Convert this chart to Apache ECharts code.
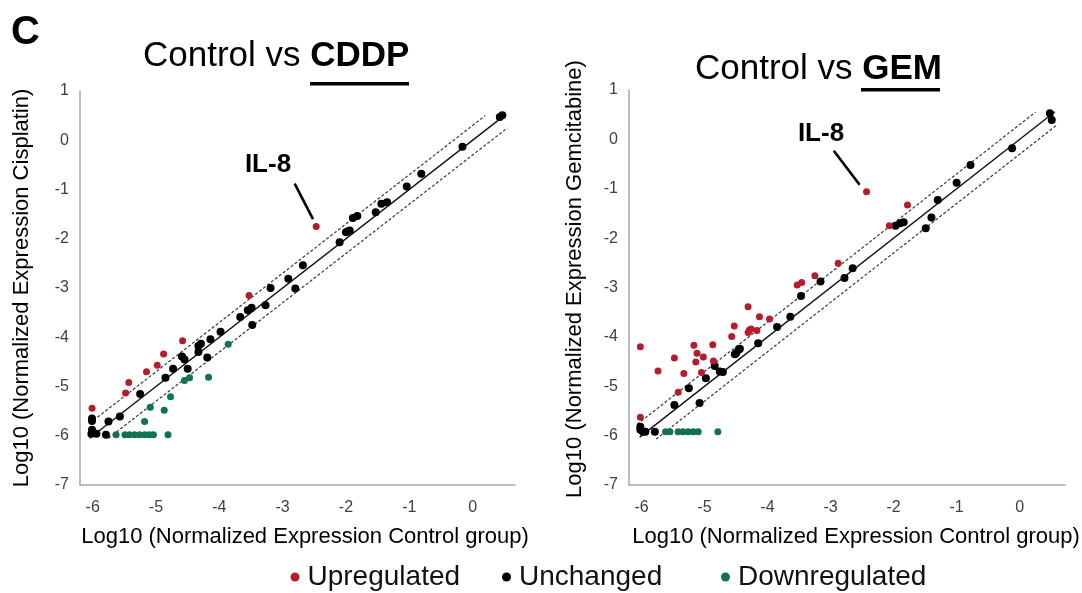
<!DOCTYPE html>
<html>
<head>
<meta charset="utf-8">
<script src="https://cdn.jsdelivr.net/npm/echarts@6/dist/echarts.min.js"></script>
<style>
  html, body { margin: 0; padding: 0; background: #fff; }
  #chart { width: 1082px; height: 593px; }
</style>
</head>
<body>
<div id="chart"></div>
<script>
// Log10 normalized expression: [control, treated]
const cddpUp = [[-6.01,-5.44],[-5.48,-5.13],[-5.43,-4.92],[-5.15,-4.70],[-4.98,-4.57],[-4.88,-4.34],[-4.58,-4.07],[-3.53,-3.15],[-2.47,-1.75]];
const cddpUnchanged = [[-6.01,-5.65],[-6.01,-5.70],[-6.01,-5.88],[-6.02,-5.96],[-5.94,-5.96],[-5.79,-5.98],[-5.75,-5.71],[-5.57,-5.61],[-5.25,-5.15],[-4.85,-4.82],[-4.73,-4.64],[-4.59,-4.39],[-4.55,-4.45],[-4.50,-4.64],[-4.33,-4.30],[-4.33,-4.18],[-4.29,-4.13],[-4.19,-4.41],[-4.14,-4.04],[-3.98,-3.89],[-3.67,-3.59],[-3.55,-3.45],[-3.49,-3.40],[-3.48,-3.75],[-3.27,-3.35],[-3.19,-3.00],[-2.91,-2.81],[-2.80,-3.01],[-2.68,-2.54],[-2.10,-2.07],[-2.00,-1.87],[-1.97,-1.85],[-1.94,-1.83],[-1.89,-1.58],[-1.82,-1.54],[-1.53,-1.46],[-1.44,-1.29],[-1.35,-1.26],[-1.04,-0.94],[-0.81,-0.68],[-0.16,-0.13],[0.43,0.47],[0.47,0.51]];
const cddpDown = [[-5.63,-5.98],[-5.49,-5.98],[-5.42,-5.98],[-5.34,-5.98],[-5.26,-5.98],[-5.18,-5.98],[-5.11,-5.98],[-5.04,-5.98],[-4.81,-5.98],[-5.18,-5.71],[-5.09,-5.42],[-4.87,-5.48],[-4.77,-5.21],[-4.55,-4.88],[-4.47,-4.82],[-4.17,-4.81],[-3.86,-4.14]];

const gemUp = [[-6.02,-4.20],[-6.02,-5.63],[-5.74,-4.69],[-5.48,-4.43],[-5.42,-5.12],[-5.33,-4.74],[-5.17,-4.17],[-5.14,-4.51],[-5.12,-4.33],[-5.02,-4.41],[-5.05,-4.72],[-4.87,-4.16],[-4.86,-4.49],[-4.57,-3.99],[-4.53,-3.78],[-4.31,-3.39],[-4.31,-3.91],[-4.29,-3.86],[-4.26,-3.84],[-4.17,-3.87],[-4.13,-3.59],[-3.97,-3.64],[-3.53,-2.95],[-3.46,-2.90],[-3.25,-2.76],[-2.88,-2.51],[-2.43,-1.06],[-2.07,-1.75],[-1.78,-1.33]];
const gemUnchanged = [[-6.02,-5.82],[-6.02,-5.88],[-5.98,-5.92],[-5.94,-5.92],[-5.79,-5.92],[-5.48,-5.38],[-5.25,-5.04],[-5.08,-5.34],[-4.98,-4.84],[-4.84,-4.59],[-4.76,-4.70],[-4.71,-4.71],[-4.52,-4.35],[-4.50,-4.33],[-4.46,-4.26],[-4.44,-4.24],[-4.15,-4.13],[-3.85,-3.80],[-3.64,-3.59],[-3.47,-3.17],[-3.16,-2.88],[-2.78,-2.81],[-2.65,-2.61],[-1.97,-1.75],[-1.90,-1.70],[-1.84,-1.68],[-1.49,-1.80],[-1.40,-1.58],[-1.30,-1.23],[-1.00,-0.88],[-0.78,-0.52],[-0.12,-0.18],[0.48,0.53],[0.51,0.39]];
const gemDown = [[-5.62,-5.92],[-5.55,-5.92],[-5.42,-5.92],[-5.34,-5.92],[-5.26,-5.92],[-5.18,-5.92],[-5.10,-5.92],[-4.79,-5.92]];

// Identity line and two-fold change bounds
const cddpIdentity = [[-6.05,-6.05],[0.50,0.50]];
const cddpUpperBound = [[-6.05,-5.75],[0.20,0.50]];
const cddpLowerBound = [[-5.75,-6.05],[0.55,0.25]];
const gemIdentity = [[-6.03,-6.03],[0.56,0.56]];
const gemUpperBound = [[-6.07,-5.77],[0.25,0.55]];
const gemLowerBound = [[-5.77,-6.07],[0.59,0.29]];

// IL-8 callout leaders
const cddpIl8Leader = [[-2.81,-0.88],[-2.52,-1.60]];
const gemIl8Leader = [[-2.95,-0.23],[-2.54,-0.92]];

const xTickValues = [-6,-5,-4,-3,-2,-1,0];
const groupNames = ['Upregulated','Unchanged','Downregulated'];

const FONT = "'Liberation Sans', Arial, Helvetica, sans-serif";
const COLORS = { up: '#b51d2c', same: '#000000', down: '#0f7352' };

function xAxisFor(gridIndex, max) {
  return {
    type: 'value', gridIndex, min: -6.2, max,
    axisLine: { show: true, onZero: false, lineStyle: { color: '#a6a6a6', width: 1.5 } },
    axisTick: { show: false },
    splitLine: { show: false },
    axisLabel: { customValues: xTickValues, fontSize: 16, color: '#404040', fontFamily: FONT, margin: 15 }
  };
}
function yAxisFor(gridIndex, padTop) {
  return {
    type: 'value', gridIndex, min: -7, max: 1, interval: 1,
    axisLine: { show: true, onZero: false, lineStyle: { color: '#a6a6a6', width: 1.5 } },
    axisTick: { show: false },
    splitLine: { show: false },
    axisLabel: { fontSize: 16, color: '#404040', fontFamily: FONT, margin: 11, padding: [padTop, 0, 0, 0] }
  };
}
function refLine(data, idx, dashed) {
  return {
    type: 'line', xAxisIndex: idx, yAxisIndex: idx, data, symbol: 'none', silent: true,
    lineStyle: dashed ? { color: '#3a3a3a', width: 1.2, type: [3, 2] } : { color: '#111', width: 1.4 },
    z: 1
  };
}
function leader(data, idx) {
  return { type: 'line', xAxisIndex: idx, yAxisIndex: idx, data, symbol: 'none', silent: true,
    lineStyle: { color: '#000', width: 2.6 }, z: 1 };
}
function dots(name, data, idx, color, size) {
  return { type: 'scatter', name, xAxisIndex: idx, yAxisIndex: idx, data, symbolSize: size,
    itemStyle: { color, opacity: 1 }, z: 3 };
}
// one legend entry per name so each can sit at its own spot along the bottom row
function legendItem(name, left) {
  return {
    data: [name], left, top: 558, icon: 'circle', itemWidth: 9, itemHeight: 9,
    textStyle: { fontSize: 28, color: '#111', fontFamily: FONT, padding: [0, 0, 0, 3] }
  };
}

const chart = echarts.init(document.getElementById('chart'), null, { renderer: 'canvas' });
chart.setOption({
  animation: false,
  backgroundColor: '#fff',
  grid: [
    { left: 80, top: 91, width: 435, height: 394 },
    { left: 629, top: 90, width: 436, height: 395 }
  ],
  xAxis: [xAxisFor(0, 0.67), xAxisFor(1, 0.72)],
  yAxis: [yAxisFor(0, 14), yAxisFor(1, 0)],
  legend: [legendItem(groupNames[0], 285.5), legendItem(groupNames[1], 497), legendItem(groupNames[2], 716)],
  series: [
    refLine(cddpIdentity, 0, false), refLine(cddpUpperBound, 0, true), refLine(cddpLowerBound, 0, true),
    refLine(gemIdentity, 1, false), refLine(gemUpperBound, 1, true), refLine(gemLowerBound, 1, true),
    leader(cddpIl8Leader, 0), leader(gemIl8Leader, 1),
    dots('Unchanged', cddpUnchanged, 0, COLORS.same, 8),
    dots('Upregulated', cddpUp, 0, COLORS.up, 7),
    dots('Downregulated', cddpDown, 0, COLORS.down, 7),
    dots('Unchanged', gemUnchanged, 1, COLORS.same, 8),
    dots('Upregulated', gemUp, 1, COLORS.up, 7),
    dots('Downregulated', gemDown, 1, COLORS.down, 7)
  ],
  graphic: [
    { type: 'text', x: 11, y: 33, style: { text: 'C', font: "bold 40px " + FONT, fill: '#000', verticalAlign: 'middle' } },
    { type: 'text', x: 143, y: 56, style: {
        text: '{n|Control vs }{b|CDDP}', verticalAlign: 'middle',
        rich: { n: { font: "35px " + FONT, fill: '#000' }, b: { font: "bold 35px " + FONT, fill: '#000' } } } },
    { type: 'rect', shape: { x: 310, y: 82, width: 99, height: 3.5 }, style: { fill: '#000' } },
    { type: 'text', x: 695, y: 69, style: {
        text: '{n|Control vs }{b|GEM}', verticalAlign: 'middle',
        rich: { n: { font: "35px " + FONT, fill: '#000' }, b: { font: "bold 35px " + FONT, fill: '#000' } } } },
    { type: 'rect', shape: { x: 861, y: 88, width: 79, height: 3.5 }, style: { fill: '#000' } },
    { type: 'text', x: 268, y: 165, style: { text: 'IL-8', font: "bold 26px " + FONT, fill: '#000', align: 'center', verticalAlign: 'middle' } },
    { type: 'text', x: 821, y: 134, style: { text: 'IL-8', font: "bold 26px " + FONT, fill: '#000', align: 'center', verticalAlign: 'middle' } },
    { type: 'text', x: 22, y: 288, rotation: Math.PI / 2, style: { text: 'Log10 (Normalized Expression Cisplatin)', font: "22px " + FONT, fill: '#000', align: 'center', verticalAlign: 'middle' } },
    { type: 'text', x: 575, y: 279, rotation: Math.PI / 2, style: { text: 'Log10 (Normalized Expression Gemcitabine)', font: "22px " + FONT, fill: '#000', align: 'center', verticalAlign: 'middle' } },
    { type: 'text', x: 305, y: 537, style: { text: 'Log10 (Normalized Expression Control group)', font: "22px " + FONT, fill: '#000', align: 'center', verticalAlign: 'middle' } },
    { type: 'text', x: 856, y: 537, style: { text: 'Log10 (Normalized Expression Control group)', font: "22px " + FONT, fill: '#000', align: 'center', verticalAlign: 'middle' } }
  ]
});
</script>
</body>
</html>
